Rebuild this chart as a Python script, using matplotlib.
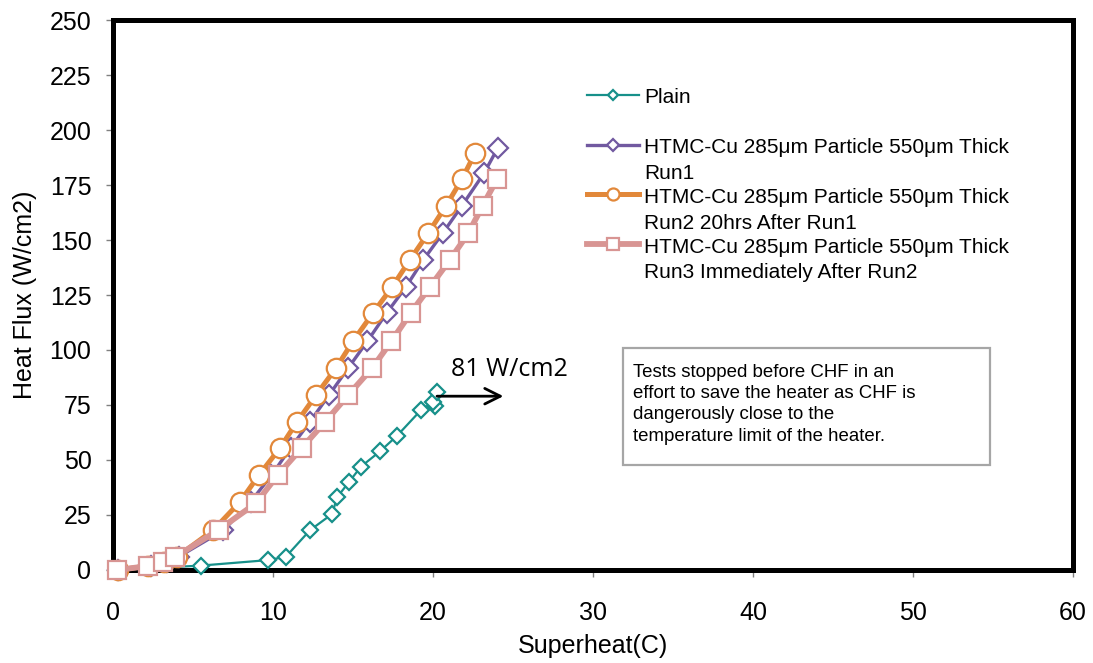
import matplotlib
matplotlib.use('Agg')
import numpy as np
import matplotlib.pyplot as plt
from matplotlib.lines import Line2D
from matplotlib.patches import Rectangle
from matplotlib.legend_handler import HandlerLine2D

plt.rcParams['font.family'] = ['Liberation Sans', 'DejaVu Sans']

# Plain surface
plain_x = [0.25, 5.5, 9.7, 10.8, 12.3, 13.7, 14.0, 14.75, 15.5, 16.7, 17.75, 19.25, 20.1, 20.0, 20.25]
plain_y = [0, 2, 4.5, 6, 18, 25.5, 33, 40, 47, 54, 61, 72.7, 74.5, 76.5, 81]

# HTMC-Cu runs
run1_x = [0.3, 2.4, 3.4, 4.1, 6.9, 8.6, 9.9, 11.1, 12.3, 13.5, 14.7, 15.9, 17.1, 18.3, 19.4, 20.6, 21.8, 23.2, 24.06]
run1_y = [0, 1.8, 3.6, 6, 18, 31, 43, 55.5, 67.3, 79.5, 91.8, 104, 116.8, 128.6, 141, 153, 165.5, 180.5, 192]

run2_x = [0.3, 2.2, 3.2, 4.0, 6.25, 7.94, 9.13, 10.44, 11.5, 12.69, 13.94, 15.0, 16.25, 17.44, 18.56, 19.69, 20.81, 21.81, 22.63]
run2_y = [0, 1.8, 3.6, 6, 18, 31, 43.2, 55.5, 67.3, 79.5, 91.8, 104, 116.8, 128.6, 141, 153, 165.5, 177.7, 189.5]

run3_x = [0.25, 2.2, 3.1, 3.9, 6.6, 8.94, 10.3, 11.8, 13.25, 14.7, 16.2, 17.4, 18.6, 19.8, 21.06, 22.2, 23.1, 24.0]
run3_y = [0, 1.8, 3.6, 6, 18.2, 30.4, 43.2, 55.5, 67.3, 79.5, 91.8, 104, 116.8, 128.6, 141, 153, 165.5, 177.7]

x_ticks = [0, 10, 20, 30, 40, 50, 60]
y_ticks = [0, 25, 50, 75, 100, 125, 150, 175, 200, 225, 250]

label_base = 'HTMC-Cu 285\u03bcm Particle 550\u03bcm Thick'


class FirstLineHandler(HandlerLine2D):
    """Put the legend sample next to the first line of a two-line label."""
    def __init__(self, shift, **kw):
        super().__init__(**kw)
        self.shift = shift

    def create_artists(self, legend, orig_handle, xdescent, ydescent,
                       width, height, fontsize, trans):
        arts = super().create_artists(legend, orig_handle, xdescent, ydescent,
                                      width, height, fontsize, trans)
        for a in arts:
            a.set_ydata(np.asarray(a.get_ydata()) + self.shift)
        return arts


fig = plt.figure(figsize=(10.93, 6.63), dpi=100)
ax = fig.add_axes([0.1034, 0.1403, 0.8783, 0.8295])

ax.plot(plain_x, plain_y, color='#17908a', lw=1.6, marker='D', ms=8.0,
        mfc='white', mec='#17908a', mew=1.6, label='Plain\n', zorder=3, clip_on=False)
ax.plot(run1_x, run1_y, color='#7159a0', lw=2.4, marker='D', ms=10.0,
        mfc='white', mec='#7159a0', mew=1.6, label=label_base + '\nRun1', zorder=4, clip_on=False)
ax.plot(run2_x, run2_y, color='#e2883a', lw=3.6, marker='o', ms=14.0,
        mfc='white', mec='#e2883a', mew=1.6, label=label_base + '\nRun2 20hrs After Run1',
        zorder=5, clip_on=False)
ax.plot(run3_x, run3_y, color='#d89593', lw=4.2, marker='s', ms=13.5,
        mfc='white', mec='#d89593', mew=1.6, label=label_base + '\nRun3 Immediately After Run2',
        zorder=6, clip_on=False)

ax.set_xlim(0, 60)
ax.set_ylim(0, 250)
ax.set_xticks(x_ticks)
ax.set_yticks(y_ticks)
ax.tick_params(axis='both', labelsize=18, color='#808080', length=5, width=1)
ax.tick_params(axis='y', pad=10.5)
ax.tick_params(axis='x', pad=17)

for sp in ax.spines.values():
    sp.set_linewidth(3.6)
    sp.set_color('black')
    sp.set_zorder(2.5)

ax.set_xlabel('Superheat(C)', fontsize=18, labelpad=7)
ax.set_ylabel('Heat Flux (W/cm2)', fontsize=18, labelpad=9)

# Arrow marking the last plain-surface point
ax.annotate('', xy=(24.4, 79), xytext=(20.25, 79),
            arrowprops=dict(arrowstyle='->', color='black', lw=2, mutation_scale=28,
                            shrinkA=0, shrinkB=0))
ax.text(21.1, 91, '81 W/cm2', fontsize=18, family='Open Sans', va='center', ha='left')

# Note box
ax.add_patch(Rectangle((0.531, 0.191), 0.3825, 0.2125, transform=ax.transAxes,
                       fc='white', ec='#a6a6a6', lw=1.6, zorder=7))
ax.text(0.5417, 0.375,
        'Tests stopped before CHF in an\neffort to save the heater as CHF is\n'
        'dangerously close to the\ntemperature limit of the heater.',
        transform=ax.transAxes, fontsize=13.4, va='top', ha='left',
        linespacing=1.33, zorder=8)

leg = ax.legend(loc='upper left', bbox_to_anchor=(0.474, 0.91), frameon=False,
                fontsize=15, markerscale=0.62, handlelength=2.5, handletextpad=0.25,
                labelspacing=0.24, handler_map={Line2D: FirstLineHandler(11.5)})
for t in leg.get_texts():
    t.set_linespacing(1.45)

fig.savefig('out.png', dpi=100)
